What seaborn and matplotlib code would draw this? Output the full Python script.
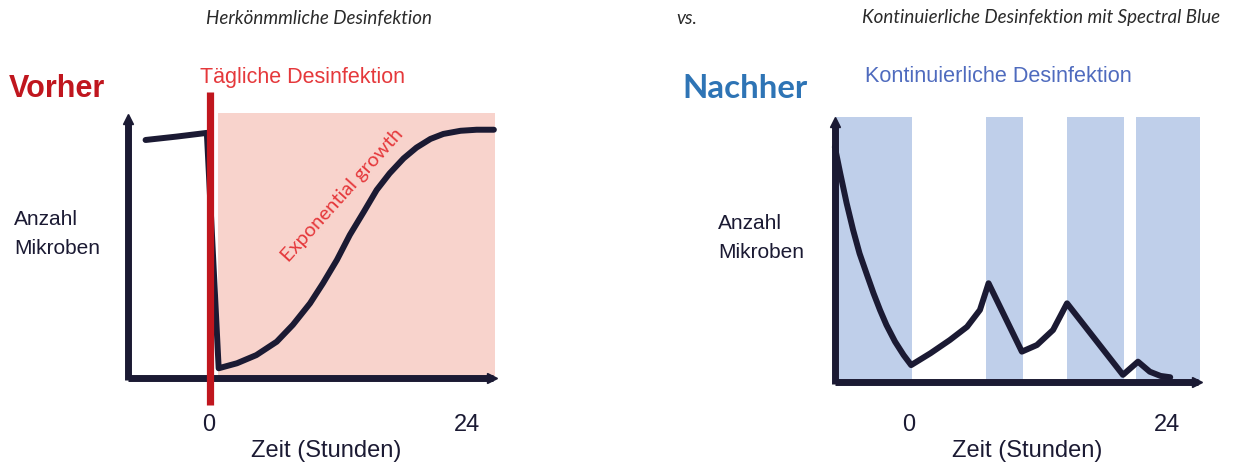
import numpy as np
import pandas as pd
import seaborn as sns
from matplotlib import pyplot as plt

# * Data (hours vs. relative number of microbes, 0-100)
vorher_hours = [-5.9, -3.0, -0.2, 0.9, 2.6, 4.4, 6.3, 7.8, 9.4, 10.6, 11.9, 13.1,
                14.4, 15.6, 16.8, 18.1, 19.3, 20.6, 21.8, 23.4, 24.9, 26.5]
vorher_count = [90.5, 91.8, 93.2, 3.7, 5.6, 8.7, 13.8, 20.2, 28.4, 36.0, 44.9, 54.4,
                63.2, 71.5, 77.8, 83.5, 87.6, 90.9, 92.8, 94.0, 94.4, 94.4]

nachher_hours = [-6.9, -6.4, -5.8, -5.2, -4.6, -3.9, -3.3, -2.7, -2.1, -1.3, -0.5, 0.2,
                 2.0, 3.8, 5.4, 6.6, 7.4, 10.5, 11.9, 13.4, 14.7, 19.9, 21.3, 22.4, 23.4, 24.3]
nachher_count = [89.1, 79.1, 67.7, 57.6, 48.7, 40.5, 33.6, 27.3, 21.6, 15.3, 10.2, 6.4,
                 10.9, 15.9, 20.9, 27.3, 37.4, 11.5, 14.0, 19.7, 29.8, 2.7, 7.7, 3.9, 2.3, 1.8]

# disinfection phases on the right (start, end in hours)
band_start = [-6.9, 7.2, 14.7, 21.1]
band_end = [0.3, 10.6, 20.0, 27.1]
band_top = 100.4

# growth phase on the left
growth_start, growth_end, growth_top = 0.8, 26.6, 100.8
disinfection_time = 0.05

tick_hours = [0, 24]
tick_labels = ['0', '24']

# * Colors
navy = '#1B1A33'
dark_red = '#C0161E'
light_red = '#E5383B'
pink = '#F8D3CC'
blue_band = '#BFCFEA'
blue_title = '#2E74B5'
blue_sub = '#4F6BBE'

sns.set_style('white')
plt.rcParams['font.family'] = ['Liberation Sans', 'DejaVu Sans']

W, H = 1233, 466
fig = plt.figure(figsize=(W / 100, H / 100), dpi=100)


def make_axes(px_left, px_right, x0_px, hour_px, y0_px, unit_px, label_px):
    # axes spanning px_left..px_right and py 60..410, limits so data lands on pixel grid
    py_top, py_bottom = 60, 410
    ax = fig.add_axes([px_left / W, 1 - py_bottom / H,
                       (px_right - px_left) / W, (py_bottom - py_top) / H])
    ax.set_xlim((px_left - x0_px) / hour_px, (px_right - x0_px) / hour_px)
    ax.set_ylim((y0_px - py_bottom) / unit_px, (y0_px - py_top) / unit_px)
    ax.patch.set_alpha(0)
    sns.despine(ax=ax, left=True, bottom=True)
    ax.set_yticks([])
    ax.set_xticks(tick_hours)
    ax.set_xticklabels(tick_labels)
    ax.tick_params(axis='x', length=0, pad=3, labelsize=17, labelcolor=navy)
    ax.set_xlabel('Zeit (Stunden)', fontsize=17, color=navy)
    ax.xaxis.set_label_coords((label_px - px_left) / (px_right - px_left), -0.085)
    return ax


def draw_axis_lines(ax, x_left, x_right, y_top):
    ax.plot([x_left, x_left], [-0.8, y_top - 2], color=navy, lw=5, solid_capstyle='butt', zorder=4)
    ax.plot([x_left, x_right - 0.4], [0, 0], color=navy, lw=5, solid_capstyle='butt', zorder=4)
    ax.plot([x_left], [y_top - 1.5], marker='^', ms=7, color=navy, zorder=4)
    ax.plot([x_right - 0.5], [0], marker='>', ms=7, color=navy, zorder=4)


#?###############
#* Left: Vorher #
#?###############
ax1 = make_axes(100, 520, 209, 10.75, 378, 2.63, 326)

ax1.bar([growth_start], [growth_top], width=[growth_end - growth_start], align='edge',
        color=pink, linewidth=0, zorder=0)

df_vorher = pd.DataFrame({'h': vorher_hours, 'n': vorher_count})
sns.lineplot(data=df_vorher, x='h', y='n', ax=ax1, color=navy, lw=4.3,
             sort=False, estimator=None, zorder=3, solid_joinstyle='round')
ax1.set_ylabel('')

draw_axis_lines(ax1, -7.5, 26.8, 100)
ax1.plot([disinfection_time, disinfection_time], [-10.3, 108.7], color=dark_red,
         lw=5.2, solid_capstyle='butt', zorder=5)

ax1.text(12.4, 69.6, 'Exponential growth', rotation=48, rotation_mode='anchor',
         ha='center', va='center', fontsize=14.5, color=light_red, family=['Lato', 'DejaVu Sans'])

#?################
#* Right: Nachher#
#?################
ax2 = make_axes(800, 1225, 909, 10.75, 382, 2.64, 1027)

ax2.bar(band_start, [band_top] * len(band_start),
        width=np.array(band_end) - np.array(band_start), align='edge',
        color=blue_band, linewidth=0, zorder=0)

df_nachher = pd.DataFrame({'h': nachher_hours, 'n': nachher_count})
sns.lineplot(data=df_nachher, x='h', y='n', ax=ax2, color=navy, lw=4.3,
             sort=False, estimator=None, zorder=3, solid_joinstyle='round')
ax2.set_ylabel('')

draw_axis_lines(ax2, -6.9, 27.3, 100)

#?########
#* Texts #
#?########
def fig_text(px, py, s, **kw):
    fig.text(px / W, 1 - py / H, s, **kw)


ital = dict(fontsize=13.5, style='italic', color='#2A2A2A', family=['Lato', 'DejaVu Sans'],
            ha='center', va='center')
fig_text(319, 18, 'Herkönmmliche Desinfektion', **ital)
fig_text(687, 18, 'vs.', **ital)
fig_text(1041, 18, 'Kontinuierliche Desinfektion mit Spectral Blue', **ital)

fig_text(9, 89, 'Vorher', fontsize=22, weight='bold', color=dark_red, ha='left', va='center')
fig_text(682, 88, 'Nachher', fontsize=23.8, weight='bold', color=blue_title, ha='left', va='center',
         family=['Lato', 'DejaVu Sans'])

fig_text(200, 77, 'Tägliche Desinfektion', fontsize=15.5, color=light_red, ha='left', va='center')
fig_text(865, 77, 'Kontinuierliche Desinfektion', fontsize=15.6, color=blue_sub, ha='left', va='center')

for px, py in [(14, 234), (718, 238)]:
    fig_text(px, py, 'Anzahl\nMikroben', fontsize=15, color=navy, ha='left', va='center',
             linespacing=1.7)

fig.savefig('out.png', dpi=100)
